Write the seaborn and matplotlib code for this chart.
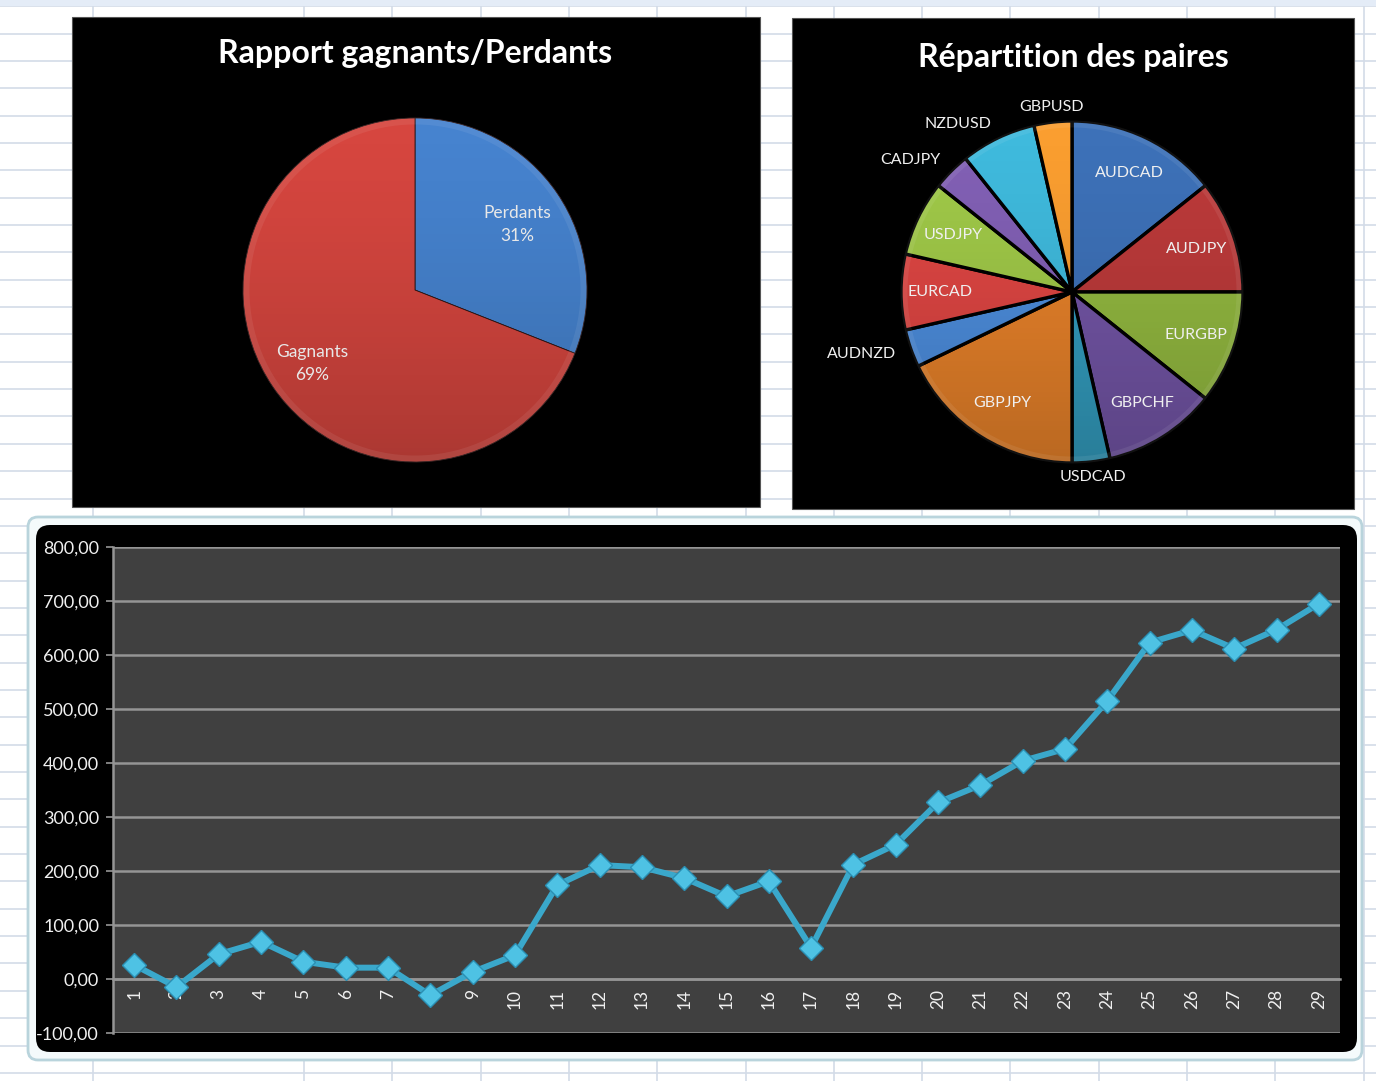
import numpy as np
import pandas as pd
import matplotlib
matplotlib.use("Agg")
import matplotlib.pyplot as plt
import seaborn as sns
from matplotlib.patches import FancyBboxPatch, Rectangle, Circle
from matplotlib.ticker import FuncFormatter, FixedLocator

# ---------------- data ----------------
outcome_labels = ["Perdants", "Gagnants"]
outcome_pct = [31, 69]

pair_labels = ["AUDCAD", "AUDJPY", "EURGBP", "GBPCHF", "USDCAD", "GBPJPY",
               "AUDNZD", "EURCAD", "USDJPY", "CADJPY", "NZDUSD", "GBPUSD"]
pair_counts = [4, 3, 3, 3, 1, 5, 1, 2, 2, 1, 2, 1]
pair_inside = [True, True, True, True, False, True,
               False, True, True, False, False, False]

trade_no = list(range(1, 30))
equity = [26, -15, 46, 69, 32, 21, 21, -30, 13, 44,
          174, 211, 207, 187, 153, 181, 58, 212, 249, 327,
          359, 404, 426, 515, 623, 646, 612, 647, 695]

# ---------------- styling ----------------
sns.set_theme(style="dark")
plt.rcParams["font.family"] = ["Lato", "DejaVu Sans"]

W, H = 1376, 1081
fig = plt.figure(figsize=(W / 100, H / 100), dpi=100)
fig.patch.set_facecolor("white")

# background: spreadsheet grid
bg = fig.add_axes([0, 0, 1, 1])
bg.set_xlim(0, W)
bg.set_ylim(H, 0)
bg.axis("off")
grid_col = "#d3dbe8"
for y in np.arange(6.2, H, 27.35):
    bg.axhline(y, color=grid_col, lw=1.2, zorder=0)
for x in [93] + list(np.arange(304, W + 10, 88.3)):
    bg.axvline(x, color=grid_col, lw=1.2, zorder=0)
bg.add_patch(Rectangle((0, 0), W, 6, fc="#e4ecf7", ec="none", zorder=0))

# black chart areas for pies
bg.add_patch(Rectangle((72, 17), 688, 490, fc="black", ec="#555555", lw=0.8, zorder=1))
bg.add_patch(Rectangle((792, 18), 562, 491, fc="black", ec="#555555", lw=0.8, zorder=1))
# line chart area (rounded) and selection frame
bg.add_patch(FancyBboxPatch((28, 517), 1334, 543,
                            boxstyle="round,pad=0,rounding_size=10",
                            fc="#f4fafb", ec="#b9d4dc", lw=2, zorder=1))
bg.add_patch(FancyBboxPatch((36, 525), 1321, 527,
                            boxstyle="round,pad=0,rounding_size=14",
                            fc="black", ec="none", zorder=2))

# titles
bg.text(415, 53, "Rapport gagnants/Perdants", ha="center", va="center",
        fontsize=23, fontweight="bold", color="white", zorder=3)
bg.text(1073, 57, "Répartition des paires", ha="center", va="center",
        fontsize=23, fontweight="bold", color="white", zorder=3)


def shade(ax, center, radius):
    """Soft darkening towards the bottom + faint rim, clipped to the pie disc."""
    grad = np.linspace(0, 1, 256).reshape(-1, 1)
    rgba = np.zeros((256, 1, 4))
    rgba[..., 3] = 0.20 * grad ** 1.5  # row 0 = top (transparent), bottom darker
    im = ax.imshow(rgba, extent=(center[0] - radius, center[0] + radius,
                                 center[1] - radius, center[1] + radius),
                   origin="upper", aspect="auto", zorder=3, interpolation="bilinear")
    clip = Circle(center, radius, transform=ax.transData)
    im.set_clip_path(clip)
    ax.add_patch(Circle(center, radius - 3, fc="none", ec=(1, 1, 1, 0.07),
                        lw=5, zorder=4))


# ---------------- pie 1 ----------------
ax1 = fig.add_axes([72 / W, 1 - 507 / H, 688 / W, 490 / H])
ax1.axis("off")
c1 = (415, H - 290)
r1 = 172
wedges1, _ = ax1.pie(outcome_pct, startangle=90, counterclock=False,
                     center=c1, radius=r1, colors=["#4683cf", "#d6463f"],
                     wedgeprops=dict(edgecolor="#2a1515", linewidth=0.6))
shade(ax1, c1, r1)
ax1.set_xlim(72, 760)
ax1.set_ylim(H - 507, H - 17)
ax1.set_aspect("auto")
for w, lab, p in zip(wedges1, outcome_labels, outcome_pct):
    ang = np.deg2rad((w.theta1 + w.theta2) / 2)
    x = c1[0] + 0.72 * r1 * np.cos(ang)
    y = c1[1] + 0.72 * r1 * np.sin(ang) - 4
    ax1.text(x, y, f"{lab}\n{p}%", ha="center", va="center",
             fontsize=12.5, color="#e8e8e8", linespacing=1.55, zorder=6)

# ---------------- pie 2 ----------------
ax2 = fig.add_axes([792 / W, 1 - 509 / H, 562 / W, 491 / H])
ax2.axis("off")
c2 = (1072, H - 292)
r2 = 171
pair_colors = ["#3d71b8", "#bc3a3a", "#93b940", "#7355a6", "#339dbf", "#e8822a",
               "#4d8ede", "#df4643", "#a0c948", "#8260b5", "#3fbadd", "#fa9e30"]
wedges2, _ = ax2.pie(pair_counts, startangle=90, counterclock=False,
                     center=c2, radius=r2, colors=pair_colors,
                     wedgeprops=dict(edgecolor="black", linewidth=2.4))
shade(ax2, c2, r2)
ax2.set_xlim(792, 1354)
ax2.set_ylim(H - 509, H - 18)
ax2.set_aspect("auto")
for w, lab, inside in zip(wedges2, pair_labels, pair_inside):
    ang = np.deg2rad((w.theta1 + w.theta2) / 2)
    ca, sa = np.cos(ang), np.sin(ang)
    if inside:
        x = c2[0] + 0.77 * r2 * ca
        y = c2[1] + 0.77 * r2 * sa
        ha = "center"
    else:
        x = c2[0] + 1.09 * r2 * ca
        y = c2[1] + 1.09 * r2 * sa
        ha = "center" if abs(ca) < 0.3 else ("right" if ca < 0 else "left")
    ax2.text(x, y, lab, ha=ha, va="center", fontsize=11.5, color="#f0f0f0", zorder=6)

# ---------------- line chart ----------------
ax3 = fig.add_axes([113 / W, 1 - 1033 / H, 1227 / W, 486 / H])
ax3.set_facecolor("#404040")
df = pd.DataFrame({"trade": trade_no, "equity": equity})
sns.lineplot(data=df, x="trade", y="equity", ax=ax3, color="#3aa8cb",
             linewidth=4.3, marker="D", markersize=12.5,
             markerfacecolor="#4ec2e4", markeredgecolor="#2a8fb3",
             markeredgewidth=1.0, zorder=5)
ax3.set_xlim(0.5, 29.5)
ax3.set_ylim(-100, 800)
ax3.set_xlabel("")
ax3.set_ylabel("")
ax3.set_yticks(np.arange(-100, 801, 100))
ax3.yaxis.set_major_formatter(FuncFormatter(lambda v, p: f"{v:.2f}".replace(".", ",")))
ax3.yaxis.grid(True, color="#959595", lw=1.8)
ax3.xaxis.grid(False)
ax3.set_xticks(trade_no)
ax3.set_xticklabels([str(t) for t in trade_no])
ax3.xaxis.set_minor_locator(FixedLocator(np.arange(0.5, 29.6, 1)))
ax3.tick_params(axis="x", which="major", length=0, pad=7, labelsize=12.5,
                labelcolor="#f0f0f0", labelrotation=90)
ax3.tick_params(axis="x", which="minor", length=6, width=1.2, color="#959595",
                direction="out")
ax3.tick_params(axis="y", which="major", length=5, width=1.2, color="#959595",
                labelsize=13, labelcolor="#f0f0f0", pad=5, left=True)
for s in ["top", "right"]:
    ax3.spines[s].set_visible(False)
ax3.spines["bottom"].set_position(("data", 0))
ax3.spines["bottom"].set_color("#959595")
ax3.spines["bottom"].set_linewidth(1.8)
ax3.spines["left"].set_color("#959595")
ax3.spines["left"].set_linewidth(1.8)

fig.savefig("out.png", dpi=100, facecolor="white")
